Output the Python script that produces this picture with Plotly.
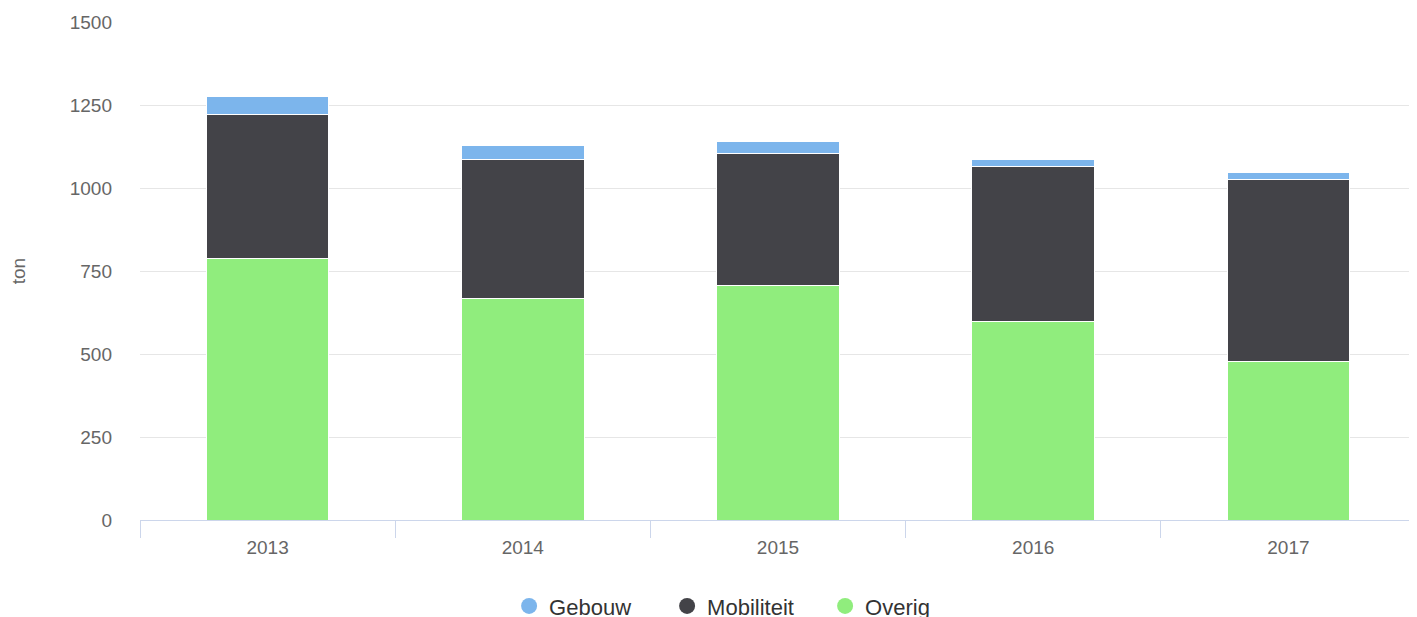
import plotly.graph_objects as go

years = ["2013", "2014", "2015", "2016", "2017"]
overig = [788, 669, 708, 599, 479]
mobiliteit = [435, 418, 396, 466, 548]
gebouw = [54, 43, 38, 22, 21]

series = [
    ("Overig", overig, "#90ed7d"),
    ("Mobiliteit", mobiliteit, "#434348"),
    ("Gebouw", gebouw, "#7cb5ec"),
]

fig = go.Figure()
for name, vals, col in series:
    fig.add_trace(go.Bar(
        x=years, y=vals, name=name, marker=dict(color=col, line=dict(color="#ffffff", width=1)),
        showlegend=False,
    ))

# legend entries with circle symbols
for name, vals, col in reversed(series):
    fig.add_trace(go.Scatter(
        x=[None], y=[None], mode="markers", name=name,
        marker=dict(symbol="circle", size=22, color=col),
    ))

fig.update_layout(
    width=1409, height=609,
    barmode="stack", bargap=0.52,
    paper_bgcolor="white", plot_bgcolor="white",
    margin=dict(l=132, r=1, t=14, b=97, autoexpand=False),
    font=dict(family="Liberation Sans, Arial, sans-serif", color="#666666", size=19),
    xaxis=dict(
        type="category", range=[-0.5, 4.5], showgrid=False, automargin=False,
        showline=True, linecolor="#ccd6eb", linewidth=1,
        ticks="outside", tickson="boundaries", ticklen=17, tickcolor="#ccd6eb",
        ticklabelstandoff=10,
        tickfont=dict(size=19, color="#666666"),
    ),
    yaxis=dict(
        range=[0, 1501], tickvals=[0, 250, 500, 750, 1000, 1250, 1500], automargin=False,
        showgrid=True, gridcolor="#e6e6e6", gridwidth=1, zeroline=False,
        showline=False, ticks="", ticklabelstandoff=27,
        tickfont=dict(size=19, color="#666666"),
        title=dict(text="ton", font=dict(size=19, color="#666666"), standoff=40),
    ),
    legend=dict(
        orientation="h", x=0.475, xanchor="center", y=-0.173, yanchor="middle",
        font=dict(size=22, color="#333333"), traceorder="normal",
        itemsizing="trace", entrywidth=113,
    ),
)

fig.write_html("out.html")
